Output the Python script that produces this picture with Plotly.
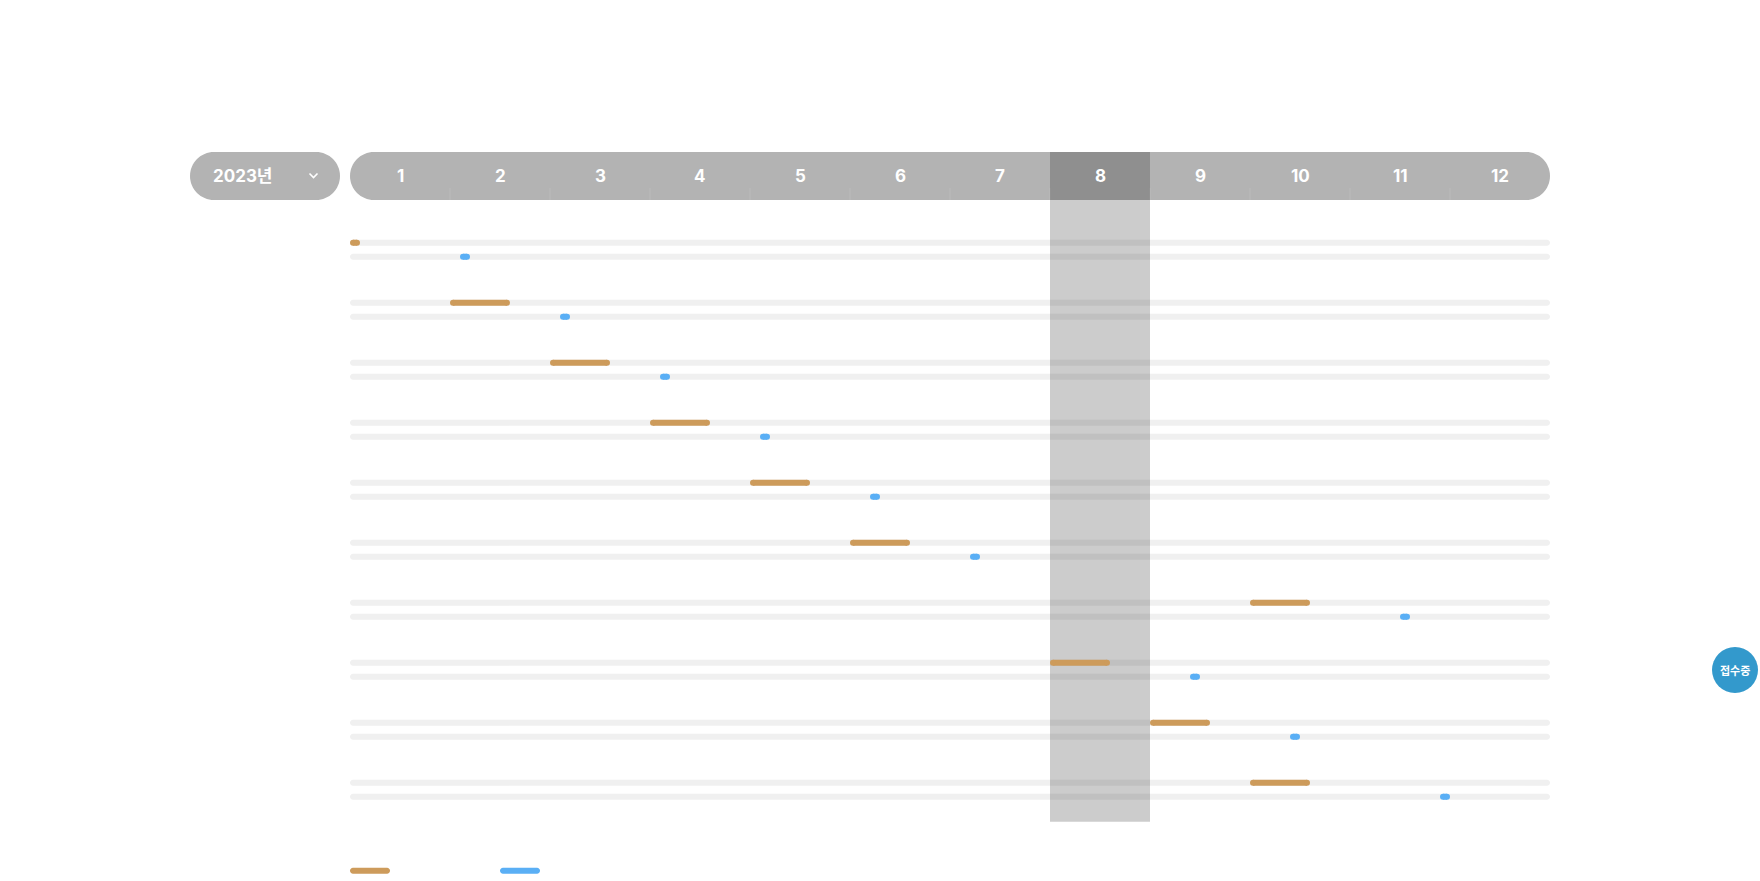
import plotly.graph_objects as go

# ---------------- data ----------------
year_label = "2023년"
months = ["1", "2", "3", "4", "5", "6", "7", "8", "9", "10", "11", "12"]
current_month = 8
rows = list(range(10))
# orange: period (start, end) in months from Jan 1
period_start = [0.0, 1.0, 2.0, 3.0, 4.0, 5.0, 9.0, 7.0, 8.0, 9.0]
period_end   = [0.1, 1.6, 2.6, 3.6, 4.6, 5.6, 9.6, 7.6, 8.6, 9.6]
# blue: announcement (start, end)
announce_start = [1.1, 2.1, 3.1, 4.1, 5.2, 6.2, 10.5, 8.4, 9.4, 10.9]
announce_end   = [1.2, 2.2, 3.2, 4.2, 5.3, 6.3, 10.6, 8.5, 9.5, 11.0]
badge_text = "접수중"

ORANGE = "#cd9b5b"
BLUE = "#5aaff5"
TRACK = "#f0f0f0"
HEADER = "#b3b3b3"
FONT = "Inter, Noto Sans CJK KR"
KFONT = "Noto Sans CJK KR"

W, H = 1760, 881
X0PX, MPX = 350, 100          # month 0 at pixel 350, 100 px per month
Y0PX, RPX = 249.7, 60         # row 0 centre pixel, 60 px per row
OFF = 7 / RPX                 # orange above / blue below the row centre


def px2x(px):
    return (px - X0PX) / MPX


def py2y(py):
    return (py - Y0PX) / RPX


def pill(px0, px1, pyc, h):
    """rounded pill path (pixel inputs) in data coords"""
    r = h / 2
    k = 0.5523
    x0, x1 = px2x(px0), px2x(px1)
    rx, ry = r / MPX, r / RPX
    yc = py2y(pyc)
    yt, yb = yc - ry, yc + ry
    return (f"M{x0+rx},{yt} L{x1-rx},{yt} "
            f"C{x1-rx+k*rx},{yt} {x1},{yc-k*ry} {x1},{yc} "
            f"C{x1},{yc+k*ry} {x1-rx+k*rx},{yb} {x1-rx},{yb} "
            f"L{x0+rx},{yb} "
            f"C{x0+rx-k*rx},{yb} {x0},{yc+k*ry} {x0},{yc} "
            f"C{x0},{yc-k*ry} {x0+rx-k*rx},{yt} {x0+rx},{yt} Z")


fig = go.Figure()
shapes = []
annotations = []

# header
shapes.append(dict(type="path", path=pill(190, 340, 176, 48), fillcolor=HEADER,
                   line=dict(width=0), layer="below", xref="x", yref="y"))
shapes.append(dict(type="path", path=pill(X0PX, X0PX + MPX * len(months), 176, 48),
                   fillcolor=HEADER, line=dict(width=0), layer="below", xref="x", yref="y"))
for i in range(1, len(months)):
    shapes.append(dict(type="line", x0=i, x1=i, y0=py2y(188), y1=py2y(200),
                       line=dict(color="rgba(255,255,255,0.12)", width=1),
                       layer="below", xref="x", yref="y"))

# tracks
for r in rows:
    for off in (-OFF, OFF):
        shapes.append(dict(type="path",
                           path=pill(X0PX, X0PX + MPX * len(months), Y0PX + (r + off) * RPX, 6),
                           fillcolor=TRACK, line=dict(width=0), layer="below",
                           xref="x", yref="y"))

# current-month highlight
shapes.append(dict(type="rect", x0=current_month - 1, x1=current_month,
                   y0=py2y(152), y1=py2y(821.7), fillcolor="rgba(0,0,0,0.2)",
                   line=dict(width=0), layer="below", xref="x", yref="y"))

# chevron
cx = px2x(313.5)
shapes.append(dict(type="path",
                   path=f"M{cx-0.04},{py2y(173.5)} L{cx},{py2y(177.5)} L{cx+0.04},{py2y(173.5)}",
                   line=dict(color="white", width=1.6), layer="above", xref="x", yref="y"))

# legend swatches
shapes.append(dict(type="path", path=pill(350, 390, 870.7, 6), fillcolor=ORANGE,
                   line=dict(width=0), xref="x", yref="y"))
shapes.append(dict(type="path", path=pill(500, 540, 870.7, 6), fillcolor=BLUE,
                   line=dict(width=0), xref="x", yref="y"))

# badge
shapes.append(dict(type="circle", x0=px2x(1712), x1=px2x(1758), y0=py2y(647), y1=py2y(693),
                   fillcolor="#3399cc", line=dict(width=0), xref="x", yref="y"))
annotations.append(dict(x=px2x(1735), y=py2y(670), text=f"<b>{badge_text}</b>", showarrow=False,
                        font=dict(family=KFONT, size=11, color="white"), xref="x", yref="y"))

# header labels
annotations.append(dict(x=px2x(243), y=py2y(175.5), text=year_label, showarrow=False,
                        font=dict(family=FONT, size=17, color="white", weight=700),
                        xref="x", yref="y"))
for i, m in enumerate(months):
    annotations.append(dict(x=i + 0.5, y=py2y(175.5), text=m, showarrow=False,
                            font=dict(family=FONT, size=17, color="white", weight=700),
                            xref="x", yref="y"))

# data bars
rx = 3 / MPX


def add_series(starts, ends, off, color, name):
    xs, ys, mx, my = [], [], [], []
    for r, s, e in zip(rows, starts, ends):
        y = r + off
        xs += [s + rx, e - rx, None]
        ys += [y, y, None]
        mx += [s + rx, e - rx]
        my += [y, y]
    fig.add_trace(go.Scatter(x=xs, y=ys, mode="lines", line=dict(color=color, width=6),
                             name=name, showlegend=False, hoverinfo="skip"))
    fig.add_trace(go.Scatter(x=mx, y=my, mode="markers",
                             marker=dict(color=color, size=6, line=dict(width=0)),
                             showlegend=False, hoverinfo="skip"))


add_series(period_start, period_end, -OFF, ORANGE, "접수기간")
add_series(announce_start, announce_end, OFF, BLUE, "발표")

fig.update_layout(
    width=W, height=H, autosize=False,
    margin=dict(l=0, r=0, t=0, b=0, pad=0),
    paper_bgcolor="white", plot_bgcolor="white",
    xaxis=dict(range=[px2x(0), px2x(W)], visible=False, showgrid=False, zeroline=False, fixedrange=True),
    yaxis=dict(range=[py2y(H), py2y(0)], visible=False, showgrid=False, zeroline=False, fixedrange=True),
    shapes=shapes, annotations=annotations, showlegend=False,
)

fig.write_html("out.html", config={"displayModeBar": False})
